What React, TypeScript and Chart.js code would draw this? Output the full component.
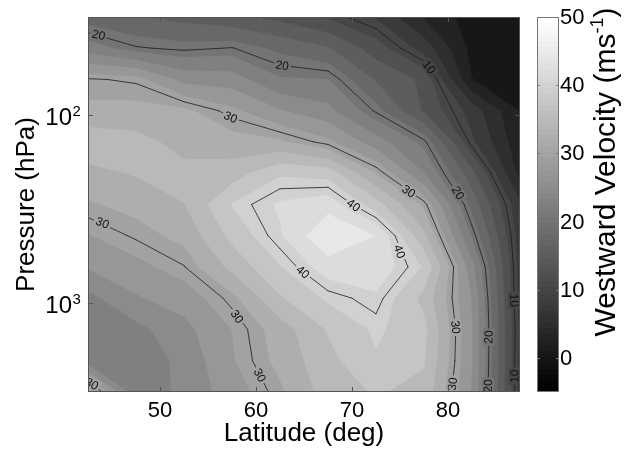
import React, { useEffect, useRef } from 'react';
import { Chart, registerables } from 'chart.js';

Chart.register(...registerables);

const FONT = "'Liberation Sans', Arial, Helvetica, sans-serif";

// ---- data ----
const latitudes = [42.5, 47.5, 52.5, 57.5, 62.5, 67.5, 72.5, 77.5, 82.5, 87.5];
const pressures = [30, 44, 64.6, 94.8, 139, 204, 300, 440, 646, 948, 1392, 2043, 3000];

// westward velocity (m/s) at each pressure level, one value per latitude
const u30 = [17.5, 16.5, 15.5, 14.5, 13.0, 11.0, 8.5, 3.5, 0.0, -0.5];
const u44 = [22.5, 20.2, 19.6, 20.1, 18.2, 16.5, 12.5, 7.7, 0.5, -0.5];
const u65 = [30.2, 29.7, 25.5, 25.0, 21.5, 21.3, 16.0, 13.2, 1.3, 0.0];
const u95 = [31.8, 32.0, 31.8, 29.3, 26.5, 24.5, 19.7, 13.4, 7.7, 1.1];
const u139 = [35.5, 34.7, 32.8, 32.3, 31.6, 29.3, 24.9, 20.5, 9.2, 2.0];
const u204 = [33.0, 34.0, 34.5, 35.0, 38.4, 37.7, 31.2, 23.8, 14.6, 2.9];
const u300 = [31.0, 32.0, 33.7, 38.9, 41.6, 42.8, 37.3, 30.7, 17.9, 6.7];
const u440 = [28.6, 30.3, 32.0, 37.0, 41.0, 46.0, 43.7, 34.4, 21.0, 7.5];
const u646 = [26.5, 28.0, 29.9, 34.5, 38.6, 42.6, 43.0, 38.5, 24.7, 7.7];
const u948 = [23.0, 26.0, 27.4, 30.6, 36.0, 39.2, 40.8, 35.5, 26.1, 7.7];
const u1392 = [22.5, 23.0, 25.5, 28.8, 32.5, 36.5, 39.2, 37.0, 26.4, 8.2];
const u2043 = [22.5, 22.0, 24.5, 28.5, 32.0, 35.5, 38.5, 36.5, 26.4, 8.0];
const u3000 = [33.5, 21.8, 24.5, 27.5, 30.8, 35.0, 36.5, 35.5, 26.0, 8.0];

const velocityRows = [u30, u44, u65, u95, u139, u204, u300, u440, u646, u948, u1392, u2043, u3000];

const fillLevels = [-3.75, -1.25, 1.25, 3.75, 6.25, 8.75, 11.25, 13.75, 16.25, 18.75, 21.25, 23.75,
  26.25, 28.75, 31.25, 33.75, 36.25, 38.75, 41.25, 43.75, 46.25, 48.75];
const lineLevels = [10, 20, 30, 40];

// contour label anchors: [latitude, pressure, level]
const contourLabels = [
  [43.6, 37.4, 20], [62.7, 55.4, 20], [77.8, 56.8, 10], [57.3, 104, 30],
  [76.0, 251, 30], [80.5, 270, 20], [70.3, 295, 40], [75.3, 525, 40],
  [64.8, 696, 40], [43.9, 387, 30], [57.8, 1209, 30], [60.0, 2496, 30],
  [43.0, 2650, 30], [80.9, 1352, 30], [80.4, 2718, 30], [84.6, 1527, 20],
  [84.2, 2787, 20], [86.8, 973, 10], [86.9, 2470, 10],
];

const xTicks = [50, 60, 70, 80];
const yTicks = [100, 1000];
const yTickBase = ['10', '10'];
const yTickExp = ['2', '3'];
const colorbarTicks = [0, 10, 20, 30, 40, 50];
const colorbarMin = -5;
const colorbarMax = 50;

const xTitle = 'Latitude (deg)';
const yTitle = 'Pressure (hPa)';
const cbTitleMain = 'Westward Velocity (ms';
const cbTitleSup = '-1';
const cbTitleEnd = ')';

// ---- helpers ----
function grayFor(v: number) {
  const t = Math.max(0, Math.min(1, (v - colorbarMin) / (colorbarMax - colorbarMin)));
  const g = Math.round(t * 255);
  return `rgb(${g},${g},${g})`;
}

type Pt = { x: number; y: number; v: number; iso?: boolean };

function clipAbove(poly: Pt[], L: number): Pt[] {
  const out: Pt[] = [];
  for (let i = 0; i < poly.length; i++) {
    const a = poly[i];
    const b = poly[(i + 1) % poly.length];
    const ain = a.v >= L;
    const bin = b.v >= L;
    if (ain) out.push(a);
    if (ain !== bin) {
      const t = (L - a.v) / (b.v - a.v);
      out.push({ x: a.x + t * (b.x - a.x), y: a.y + t * (b.y - a.y), v: L, iso: true });
    }
  }
  return out;
}

function locate(arr: number[], v: number) {
  for (let k = 0; k < arr.length - 2; k++) if (v < arr[k + 1]) return k;
  return arr.length - 2;
}

export default function App() {
  const ref = useRef<HTMLCanvasElement>(null);

  useEffect(() => {
    const canvas = ref.current!;

    const gridPixels = (chart: any) => {
      const xs = latitudes.map((v) => chart.scales.x.getPixelForValue(v));
      const ys = pressures.map((v) => chart.scales.y.getPixelForValue(v));
      return { xs, ys };
    };

    const cellQuad = (xs: number[], ys: number[], i: number, j: number): Pt[] => [
      { x: xs[i], y: ys[j], v: velocityRows[j][i] },
      { x: xs[i + 1], y: ys[j], v: velocityRows[j][i + 1] },
      { x: xs[i + 1], y: ys[j + 1], v: velocityRows[j + 1][i + 1] },
      { x: xs[i], y: ys[j + 1], v: velocityRows[j + 1][i] },
    ];

    const contourPlugin = {
      id: 'contourPlugin',
      beforeDatasetsDraw(chart: any) {
        const { ctx, chartArea } = chart;
        const { xs, ys } = gridPixels(chart);
        const W = chartArea.right - chartArea.left;
        const H = chartArea.bottom - chartArea.top;
        ctx.save();
        ctx.beginPath();
        ctx.rect(chartArea.left, chartArea.top, W, H);
        ctx.clip();
        ctx.fillStyle = grayFor(colorbarMin);
        ctx.fillRect(chartArea.left, chartArea.top, W, H);

        // filled bands, layered
        for (const L of fillLevels) {
          ctx.beginPath();
          let any = false;
          for (let j = 0; j < ys.length - 1; j++) {
            for (let i = 0; i < xs.length - 1; i++) {
              const q = cellQuad(xs, ys, i, j);
              if (Math.max(q[0].v, q[1].v, q[2].v, q[3].v) < L) continue;
              const poly = clipAbove(q, L);
              if (poly.length < 3) continue;
              ctx.moveTo(poly[0].x, poly[0].y);
              for (let k = 1; k < poly.length; k++) ctx.lineTo(poly[k].x, poly[k].y);
              ctx.closePath();
              any = true;
            }
          }
          if (any) {
            ctx.fillStyle = grayFor(L + 1.25);
            ctx.fill();
          }
        }

        // contour lines
        ctx.beginPath();
        for (const L of lineLevels) {
          for (let j = 0; j < ys.length - 1; j++) {
            for (let i = 0; i < xs.length - 1; i++) {
              const q = cellQuad(xs, ys, i, j);
              const poly = clipAbove(q, L);
              const n = poly.length;
              if (n < 3) continue;
              for (let k = 0; k < n; k++) {
                const a = poly[k];
                const b = poly[(k + 1) % n];
                if (a.iso && b.iso) {
                  ctx.moveTo(a.x, a.y);
                  ctx.lineTo(b.x, b.y);
                }
              }
            }
          }
        }
        ctx.strokeStyle = '#1c1c1c';
        ctx.lineWidth = 0.8;
        ctx.lineCap = 'round';
        ctx.stroke();

        // contour labels
        const f = (px: number, py: number) => {
          const i = locate(xs, px);
          const j = locate(ys, py);
          const tx = (px - xs[i]) / (xs[i + 1] - xs[i]);
          const ty = (py - ys[j]) / (ys[j + 1] - ys[j]);
          const a = velocityRows[j][i];
          const b = velocityRows[j][i + 1];
          const c = velocityRows[j + 1][i];
          const d = velocityRows[j + 1][i + 1];
          return a * (1 - tx) * (1 - ty) + b * tx * (1 - ty) + c * (1 - tx) * ty + d * tx * ty;
        };
        ctx.font = `12px ${FONT}`;
        ctx.textAlign = 'center';
        ctx.textBaseline = 'middle';
        for (const [lat, p, L] of contourLabels) {
          let x = chart.scales.x.getPixelForValue(lat);
          let y = chart.scales.y.getPixelForValue(p);
          let gx = 0;
          let gy = 0;
          for (let it = 0; it < 10; it++) {
            const v = f(x, y);
            gx = (f(x + 1, y) - f(x - 1, y)) / 2;
            gy = (f(x, y + 1) - f(x, y - 1)) / 2;
            const g2 = gx * gx + gy * gy;
            if (g2 < 1e-8) break;
            let sx = ((v - L) * gx) / g2;
            let sy = ((v - L) * gy) / g2;
            const len = Math.hypot(sx, sy);
            if (len > 5) {
              sx *= 5 / len;
              sy *= 5 / len;
            }
            x -= sx;
            y -= sy;
            x = Math.max(chartArea.left + 3, Math.min(chartArea.right - 3, x));
            y = Math.max(chartArea.top + 3, Math.min(chartArea.bottom - 3, y));
          }
          let ang = Math.atan2(gx, -gy);
          if (ang > Math.PI / 2) ang -= Math.PI;
          if (ang <= -Math.PI / 2) ang += Math.PI;
          const text = String(L);
          const w = ctx.measureText(text).width;
          ctx.save();
          ctx.translate(x, y);
          ctx.rotate(ang);
          ctx.fillStyle = grayFor(L);
          ctx.fillRect(-w / 2 - 2, -6, w + 4, 12);
          ctx.fillStyle = '#111';
          ctx.fillText(text, 0, 0.5);
          ctx.restore();
        }
        ctx.restore();
      },
      afterDraw(chart: any) {
        const { ctx, chartArea, scales } = chart;
        const { left, right, top, bottom } = chartArea;
        ctx.save();
        // axes box
        ctx.strokeStyle = '#555';
        ctx.lineWidth = 1;
        ctx.strokeRect(left + 0.5, top + 0.5, right - left - 1, bottom - top - 1);
        ctx.beginPath();
        for (const v of xTicks) {
          const px = Math.round(scales.x.getPixelForValue(v)) + 0.5;
          ctx.moveTo(px, bottom);
          ctx.lineTo(px, bottom - 5);
          ctx.moveTo(px, top);
          ctx.lineTo(px, top + 5);
        }
        for (const v of yTicks) {
          const py = Math.round(scales.y.getPixelForValue(v)) + 0.5;
          ctx.moveTo(left, py);
          ctx.lineTo(left + 5, py);
          ctx.moveTo(right, py);
          ctx.lineTo(right - 5, py);
        }
        ctx.stroke();

        // y tick labels with exponents
        ctx.fillStyle = '#000';
        yTicks.forEach((v, k) => {
          const py = scales.y.getPixelForValue(v);
          ctx.font = `24px ${FONT}`;
          ctx.textAlign = 'right';
          ctx.textBaseline = 'alphabetic';
          ctx.fillText(yTickBase[k], left - 16, py + 10);
          ctx.font = `15px ${FONT}`;
          ctx.textAlign = 'left';
          ctx.fillText(yTickExp[k], left - 15.5, py + 1);
        });

        // colorbar
        const cb = scales.cb;
        const barL = 537;
        const barR = 559;
        const steps = 64;
        for (let k = 0; k < steps; k++) {
          const v0 = colorbarMin + ((colorbarMax - colorbarMin) * k) / steps;
          const v1 = colorbarMin + ((colorbarMax - colorbarMin) * (k + 1)) / steps;
          const y0 = cb.getPixelForValue(v1);
          const y1 = cb.getPixelForValue(v0);
          const g = Math.round((k / (steps - 1)) * 255);
          ctx.fillStyle = `rgb(${g},${g},${g})`;
          ctx.fillRect(barL, Math.floor(y0), barR - barL, Math.ceil(y1) - Math.floor(y0));
        }
        ctx.strokeStyle = '#777';
        ctx.strokeRect(barL + 0.5, cb.top + 0.5, barR - barL - 1, cb.bottom - cb.top - 1);
        ctx.beginPath();
        for (const v of colorbarTicks) {
          if (v >= colorbarMax) continue;
          const py = Math.round(cb.getPixelForValue(v)) + 0.5;
          ctx.moveTo(barL, py);
          ctx.lineTo(barL + 3, py);
          ctx.moveTo(barR, py);
          ctx.lineTo(barR - 3, py);
        }
        ctx.stroke();
        ctx.fillStyle = '#000';
        ctx.font = `22px ${FONT}`;
        ctx.textAlign = 'left';
        ctx.textBaseline = 'middle';
        for (const v of colorbarTicks) {
          ctx.fillText(String(v), barR + 1, cb.getPixelForValue(v) + 1);
        }

        // colorbar title (rotated, with superscript)
        const fMain = `30px ${FONT}`;
        const fSup = `18px ${FONT}`;
        ctx.font = fMain;
        const wMain = ctx.measureText(cbTitleMain).width;
        const wEnd = ctx.measureText(cbTitleEnd).width;
        ctx.font = fSup;
        const wSup = ctx.measureText(cbTitleSup).width;
        const total = wMain + wSup + wEnd;
        ctx.translate(604, 172);
        ctx.rotate(-Math.PI / 2);
        ctx.textAlign = 'left';
        ctx.textBaseline = 'alphabetic';
        const start = -total / 2;
        ctx.font = fMain;
        ctx.fillText(cbTitleMain, start, 11);
        ctx.font = fSup;
        ctx.fillText(cbTitleSup, start + wMain, -1);
        ctx.font = fMain;
        ctx.fillText(cbTitleEnd, start + wMain + wSup, 11);
        ctx.restore();
      },
    };

    const points: { x: number; y: number }[] = [];
    pressures.forEach((p) => latitudes.forEach((lat) => points.push({ x: lat, y: p })));

    const chart = new Chart(canvas, {
      type: 'scatter',
      data: {
        datasets: [
          {
            data: points,
            pointRadius: 0,
            pointHoverRadius: 0,
            showLine: false,
            xAxisID: 'x',
            yAxisID: 'y',
          },
        ],
      },
      options: {
        responsive: false,
        animation: false,
        events: [],
        layout: { padding: { top: 17, left: 0, right: 0, bottom: 0 } },
        plugins: { legend: { display: false }, tooltip: { enabled: false } },
        scales: {
          x: {
            type: 'linear',
            position: 'bottom',
            min: 42.5,
            max: 87.5,
            afterBuildTicks: (axis: any) => {
              axis.ticks = xTicks.map((v) => ({ value: v }));
            },
            afterFit: (s: any) => {
              s.height = 65;
            },
            grid: { display: false, drawTicks: false },
            border: { display: false },
            ticks: {
              autoSkip: false,
              maxRotation: 0,
              padding: 6,
              color: '#000',
              font: { family: FONT, size: 22 },
              callback: (v: any) => String(v),
            },
            title: {
              display: true,
              text: xTitle,
              color: '#000',
              font: { family: FONT, size: 26 },
              padding: { top: 0, bottom: 8 },
            },
          },
          y: {
            type: 'logarithmic',
            position: 'left',
            min: 30,
            max: 3000,
            reverse: true,
            afterBuildTicks: (axis: any) => {
              axis.ticks = yTicks.map((v) => ({ value: v }));
            },
            afterFit: (s: any) => {
              s.width = 88;
            },
            grid: { display: false, drawTicks: false },
            border: { display: false },
            ticks: { display: false },
            title: {
              display: true,
              text: yTitle,
              color: '#000',
              font: { family: FONT, size: 26 },
              padding: { top: 11, bottom: 0 },
            },
          },
          cb: {
            type: 'linear',
            position: 'right',
            min: colorbarMin,
            max: colorbarMax,
            afterFit: (s: any) => {
              s.width = 114;
            },
            grid: { display: false, drawTicks: false },
            border: { display: false },
            ticks: { display: false },
          },
        },
      },
      plugins: [contourPlugin],
    } as any);

    return () => chart.destroy();
  }, []);

  return (
    <div style={{ position: 'absolute', left: 0, top: 0, width: 634, height: 457 }}>
      <canvas ref={ref} width={634} height={457} style={{ display: 'block', width: 634, height: 457 }} />
    </div>
  );
}
